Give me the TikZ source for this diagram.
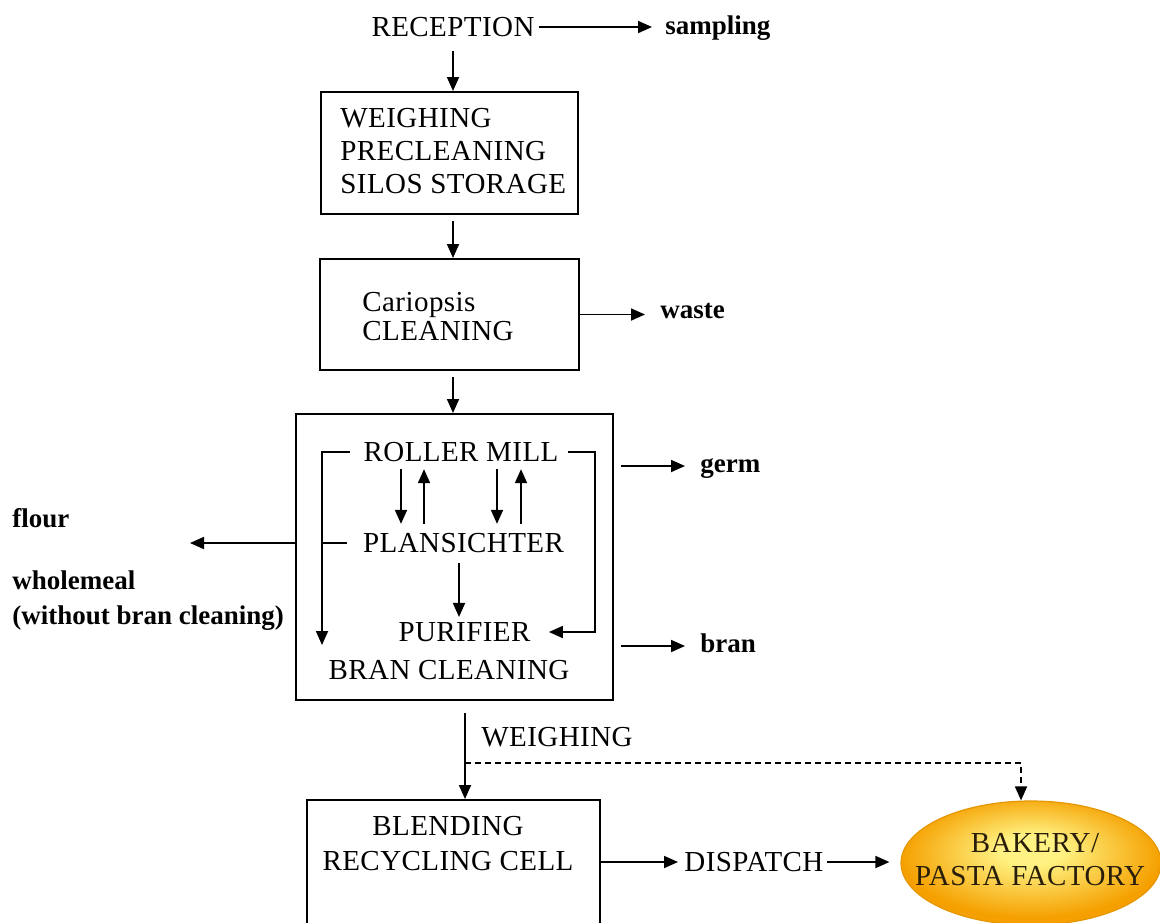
\documentclass[tikz,border=0pt]{standalone}
\usepackage{fontspec}
\setmainfont{Liberation Serif}
\usetikzlibrary{arrows.meta,shapes.geometric,calc}
\definecolor{ylw}{RGB}{255,242,130}
\definecolor{org}{RGB}{245,160,0}
\definecolor{edgec}{RGB}{230,150,0}
\definecolor{ink}{RGB}{40,30,10}
\pgfdeclareradialshading{bakery}{\pgfpoint{0bp}{6bp}}{color(0bp)=(ylw); color(6bp)=(ylw); color(25bp)=(org); color(50bp)=(org)}
\begin{document}
\begin{tikzpicture}[x=0.5pt,y=-0.5pt,
  box/.style={draw, line width=1pt, inner sep=0pt},
  captxt/.style={inner sep=0pt, font=\fontsize{14.5}{16.5}\selectfont\addfontfeature{LetterSpace=1.5}},
  lbl/.style={inner sep=0pt, anchor=base west, font=\bfseries\fontsize{13.5}{17.5}\selectfont},
  arr/.style={line width=0.9pt, -{Triangle[length=7pt,width=6pt]}},
  ln/.style={line width=0.9pt}]
\useasboundingbox (0,0) rectangle (1160,922);
\clip (0,0) rectangle (1160,922);

% helper coordinates
\coordinate (mx) at (453,0);
\coordinate (lb) at (322,645);
\coordinate (rb) at (595,0);
\coordinate (flt) at (190,543);
\coordinate (wx) at (465,0);
\coordinate (dy) at (0,763);
\coordinate (bx) at (1021,0);
\coordinate (gy) at (0,466);
\coordinate (by) at (0,646);
\coordinate (a1) at (401,0);
\coordinate (a2) at (424,0);
\coordinate (a3) at (497,0);
\coordinate (a4) at (521,0);
\coordinate (a5) at (459,0);

% nodes
\node[captxt] (rec) at (453,27) {RECEPTION};
\node[lbl] (samp) at (665,34) {sampling};

\node[box, minimum width=128.5pt, minimum height=61pt] (b1) at (449.5,153) {};
\node[captxt, align=left, anchor=west] (b1t) at (340,151) {WEIGHING\\PRECLEANING\\SILOS STORAGE};

\node[box, minimum width=129.5pt, minimum height=55.5pt] (b2) at (449.5,314.5) {};
\node[captxt, align=left, anchor=west, font={\fontsize{14.5}{14.5}\selectfont\addfontfeature{LetterSpace=1.5}}] (b2t) at (362,317) {Cariopsis\\CLEANING};
\node[lbl] (waste) at (660,318) {waste};

\node[box, minimum width=158.5pt, minimum height=143pt] (b3) at (454.5,557) {};
\node[captxt] (rm) at (461,452) {ROLLER MILL};
\node[captxt] (pl) at (463.5,543) {PLANSICHTER};
\node[captxt] (pu) at (464.5,632) {PURIFIER};
\node[captxt] (bc) at (449,670) {BRAN CLEANING};
\node[lbl] (germ) at (700,472) {germ};
\node[lbl] (bran) at (700,652) {bran};
\node[lbl] (flour) at (12,527) {flour};
\node[lbl, align=left] (whole) at (12,624) {wholemeal\\(without bran cleaning)};

\node[captxt, anchor=west] (wg) at (481,737) {WEIGHING};
\node[box, minimum width=146.5pt, minimum height=75pt] (b4) at (453.5,875) {};
\node[captxt] (b4a) at (448,826) {BLENDING};
\node[captxt] (b4b) at (448,861) {RECYCLING CELL};
\node[captxt, anchor=west] (disp) at (684,862) {DISPATCH};

\node[draw=edgec, line width=0.6pt, ellipse, minimum width=130pt, minimum height=62pt, shading=bakery] (bak) at (1031,863) {};
\node[captxt, text=ink] (bk1) at (1035,843) {BAKERY/};
\node[captxt, text=ink] (bk2) at (1030,876) {PASTA FACTORY};

% connectors
\draw[arr, shorten <=2pt, shorten >=6.5pt] (rec.east) -- (rec.east -| samp.west);
\draw[arr, shorten <=7pt] (rec.south -| mx) -- (b1.north -| mx);
\draw[arr, shorten <=3pt] (b1.south -| mx) -- (b2.north -| mx);
\draw[arr, shorten >=7.5pt] (b2.east) -- (b2.east -| waste.west);
\draw[arr, shorten <=3pt] (b2.south -| mx) -- (b3.north -| mx);

\draw[arr, shorten <=3.5pt, shorten >=4.5pt] (rm.south -| a1) -- (pl.north -| a1);
\draw[arr, shorten <=4.5pt, shorten >=3.5pt] (pl.north -| a2) -- (rm.south -| a2);
\draw[arr, shorten <=3.5pt, shorten >=4.5pt] (rm.south -| a3) -- (pl.north -| a3);
\draw[arr, shorten <=4.5pt, shorten >=3.5pt] (pl.north -| a4) -- (rm.south -| a4);

\draw[arr] ([xshift=-6.5pt]rm.west) -| (lb);
\draw[ln] ([xshift=-8pt]pl.west) -- (pl.west -| lb);
\draw[arr] ([xshift=4.5pt]rm.east) -- (rm.east -| rb) -- (rb |- pu.east) -- ([xshift=9pt]pu.east);
\draw[arr, shorten <=5pt, shorten >=2.5pt] (pl.south -| a5) -- (pu.north -| a5);

\draw[arr] (b3.west |- pl) -- (flt);
\draw[arr, shorten <=3.5pt, shorten >=7.5pt] (b3.east |- gy) -- (germ.west |- gy);
\draw[arr, shorten <=3.5pt, shorten >=7.5pt] (b3.east |- by) -- (bran.west |- by);

\draw[arr, shorten <=6pt] (b3.south -| wx) -- (b4.north -| wx);
\draw[arr, dash pattern=on 3pt off 2pt] (wx |- dy) -| (bak.north -| bx);
\draw[arr, shorten >=3pt] (b4.east |- disp) -- (disp.west);
\draw[arr, shorten <=1.5pt, shorten >=5.5pt] (disp.east) -- (disp.east -| bak.west);
\end{tikzpicture}
\end{document}
